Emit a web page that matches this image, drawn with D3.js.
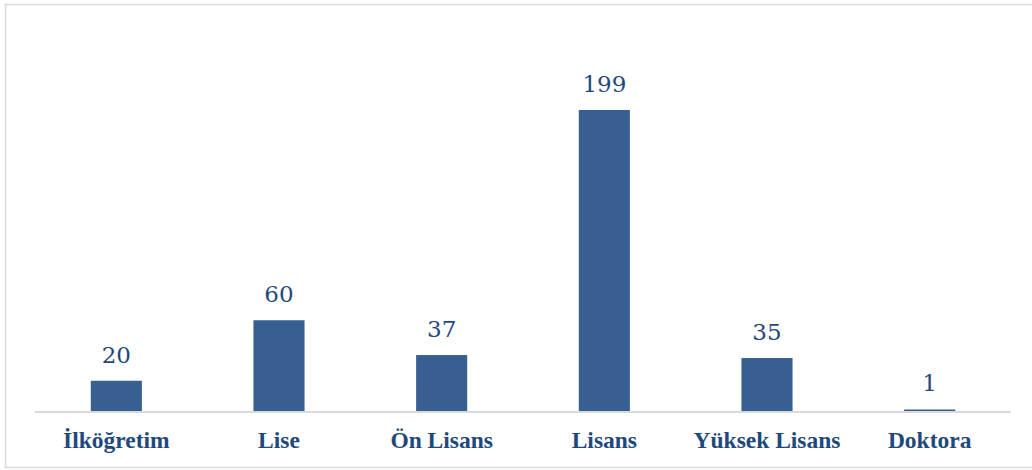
<!DOCTYPE html>
<html>
    <head>
        <meta charset='utf-8'>
        <title>Eğitim Durumu</title>
        <script src='https://d3js.org/d3.v7.min.js'></script>
        <style>
            body { margin: 0; background: #fff; }
        </style>
    </head>
    <body>
        <script type="text/javascript">

            var categories = ['İlköğretim', 'Lise', 'Ön Lisans', 'Lisans', 'Yüksek Lisans', 'Doktora'];
            var values = [20, 60, 37, 199, 35, 1];

            var width = 1032;
            var height = 470;
            var margin = {top: 110, right: 21, bottom: 59, left: 35};
            var baseline = height - margin.bottom;

            var svg = d3.select('body')
                        .append('svg')
                        .attr('width', width)
                        .attr('height', height);

            // chart frame (right edge runs off the picture)
            svg.append('rect')
              .attr('x', 5.5)
              .attr('y', 4.5)
              .attr('width', width + 10)
              .attr('height', 463)
              .attr('fill', 'none')
              .attr('stroke', '#d9d9d9')
              .attr('stroke-width', 1.5);

            var x = d3.scaleBand()
                .domain(categories)
                .range([margin.left, width - margin.right])
                .paddingInner(0.686)
                .paddingOuter(0.343);

            var y = d3.scaleLinear()
                .domain([0, 199])
                .range([baseline, margin.top]);

            svg.append('g')
              .attr('class', 'bars')
            .selectAll('rect')
            .data(values)
            .enter().append('rect')
              .attr('x', function(d, i) { return x(categories[i]); })
              .attr('y', function(d) { return y(d); })
              .attr('width', x.bandwidth())
              .attr('height', function(d) { return baseline - y(d); })
              .attr('fill', '#375f91');

            // baseline
            svg.append('line')
              .attr('x1', margin.left)
              .attr('x2', width - margin.right)
              .attr('y1', baseline + 1)
              .attr('y2', baseline + 1)
              .attr('stroke', '#d9d9d9')
              .attr('stroke-width', 2);

            svg.append('g')
              .attr('class', 'values')
            .selectAll('text')
            .data(values)
            .enter().append('text')
              .attr('x', function(d, i) { return x(categories[i]) + x.bandwidth() / 2; })
              .attr('y', function(d) { return y(d) - 18; })
              .attr('text-anchor', 'middle')
              .attr('font-family', '"DejaVu Serif", serif')
              .attr('font-size', 23)
              .attr('fill', '#1f497d')
              .text(function(d) { return d; });

            var xAxis = d3.axisBottom(x).tickSize(0).tickPadding(0);

            svg.append('g')
              .attr('transform', 'translate(0,' + (baseline + 37) + ')')
              .call(xAxis)
              .call(function(g) { g.select('.domain').remove(); })
              .selectAll('text')
              .attr('dy', 0)
              .attr('font-family', '"Liberation Serif", "Times New Roman", serif')
              .attr('font-weight', 'bold')
              .attr('font-size', 23.5)
              .attr('fill', '#1f497d');

        </script>
    </body>
</html>
